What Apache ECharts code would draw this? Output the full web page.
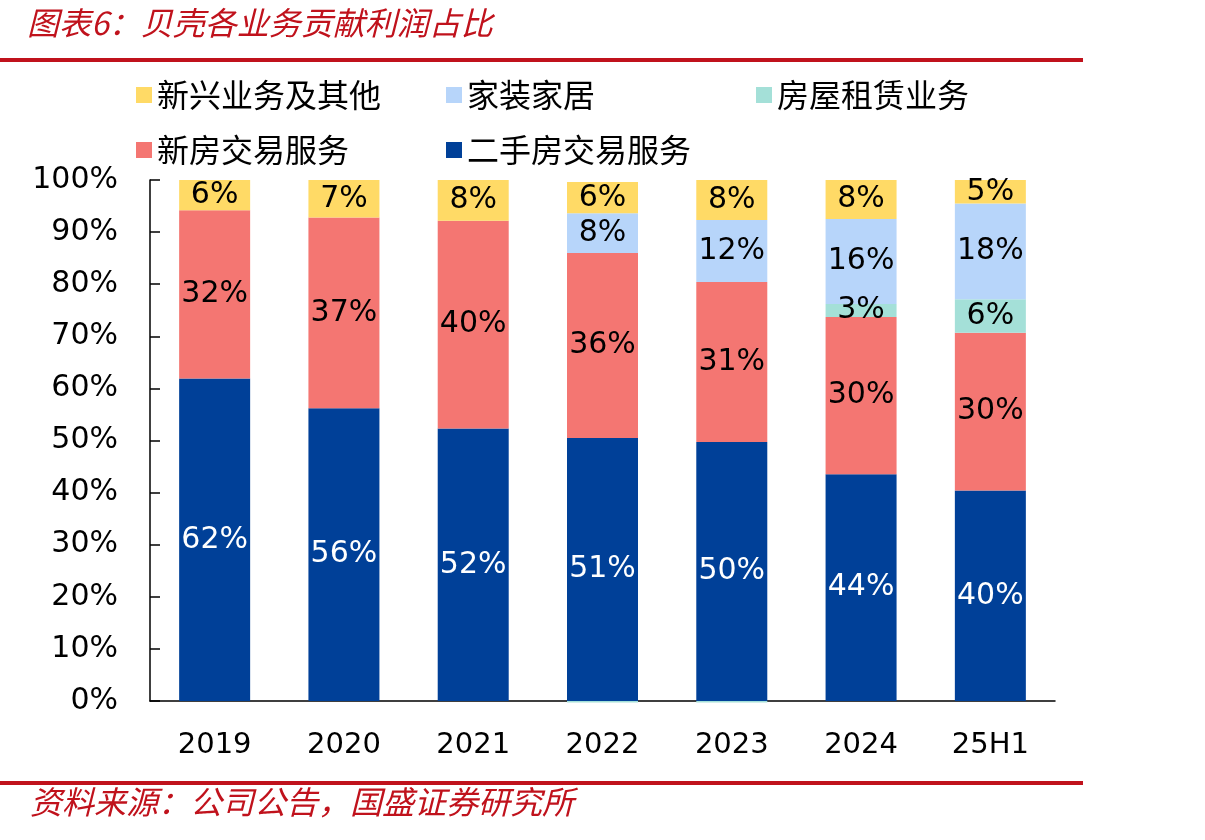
<!DOCTYPE html>
<html lang="zh-CN" style="height: 100%">
<head>
  <meta charset="utf-8">
</head>
<body style="height: 100%; margin: 0; background: #fff">
  <div id="container" style="width: 1205px; height: 840px"></div>

  <script type="text/javascript" src="https://fastly.jsdelivr.net/npm/echarts@6/dist/echarts.min.js"></script>

  <script type="text/javascript">
    // 贝壳各业务贡献利润占比 (%)
    var years = ['2019', '2020', '2021', '2022', '2023', '2024', '25H1'];
    var secondHand = [61.9, 56.2, 52.3, 50.5, 49.7, 43.5, 40.4];   // 二手房交易服务
    var newHome = [32.3, 36.6, 39.9, 35.5, 30.7, 30.2, 30.3];      // 新房交易服务
    var rental = [0, 0, 0, -0.3, -0.3, 2.5, 6.4];                  // 房屋租赁业务
    var homeDeco = [0, 0, 0, 7.6, 11.9, 16.3, 18.4];                // 家装家居
    var emerging = [5.8, 7.2, 7.8, 6.0, 7.7, 7.5, 4.5];            // 新兴业务及其他
    var yTicks = ['0%', '10%', '20%', '30%', '40%', '50%', '60%', '70%', '80%', '90%', '100%'];

    var red = '#C0121C';
    var numFont = 'DejaVu Sans';
    var cjkFont = '"Noto Sans CJK SC"';

    var dom = document.getElementById('container');
    var myChart = echarts.init(dom, null, { renderer: 'canvas' });
    var option;

    function pctLabel(color) {
      return {
        show: true,
        position: 'inside',
        color: color,
        fontFamily: numFont,
        fontSize: 30,
        formatter: function (p) {
          if (Math.abs(p.value) < 1) return '';
          return Math.round(p.value) + '%';
        }
      };
    }

    function barSeries(name, data, color, labelColor) {
      return {
        name: name,
        type: 'bar',
        stack: 'total',
        barWidth: 71,
        clip: false,
        data: data,
        itemStyle: { color: color },
        label: pctLabel(labelColor)
      };
    }

    option = {
      animation: false,
      backgroundColor: '#fff',
      title: {
        text: '图表6：贝壳各业务贡献利润占比',
        left: 22,
        top: 2,
        textStyle: {
          color: red,
          fontFamily: cjkFont,
          fontStyle: 'italic',
          fontWeight: 'normal',
          fontSize: 32
        }
      },
      legend: {
        data: ['新兴业务及其他', '家装家居', '房屋租赁业务', '新房交易服务', '二手房交易服务'],
        left: 131,
        top: 72,
        width: 950,
        icon: 'rect',
        itemWidth: 16,
        itemHeight: 16,
        itemGap: 19,
        textStyle: {
          color: '#000',
          fontFamily: cjkFont,
          fontSize: 32,
          width: 270,
          lineHeight: 36
        }
      },
      grid: {
        left: 150,
        right: 150,
        top: 180,
        bottom: 139
      },
      xAxis: {
        type: 'category',
        data: years,
        axisLine: { lineStyle: { color: '#000', width: 1.5 } },
        axisTick: { inside: true, length: 10, lineStyle: { color: '#000', width: 1.5 } },
        axisLabel: { color: '#000', fontFamily: numFont, fontSize: 29, margin: 30 }
      },
      yAxis: {
        type: 'value',
        min: 0,
        max: 100,
        interval: 10,
        axisLine: { show: true, lineStyle: { color: '#000', width: 1.5 } },
        axisTick: { show: true, inside: true, length: 10, lineStyle: { color: '#000', width: 1.5 } },
        splitLine: { show: false },
        axisLabel: {
          color: '#000',
          fontFamily: numFont,
          fontSize: 30,
          margin: 32,
          formatter: function (v) { return yTicks[Math.round(v / 10)]; }
        }
      },
      series: [
        barSeries('二手房交易服务', secondHand, '#004098', '#fff'),
        barSeries('新房交易服务', newHome, '#F47672', '#000'),
        barSeries('房屋租赁业务', rental, '#A4E0D8', '#000'),
        barSeries('家装家居', homeDeco, '#B7D5FA', '#000'),
        barSeries('新兴业务及其他', emerging, '#FFDA66', '#000')
      ],
      graphic: [
        { type: 'rect', left: 0, top: 58, shape: { width: 1083, height: 4 }, style: { fill: red } },
        { type: 'rect', left: 0, top: 781, shape: { width: 1083, height: 4 }, style: { fill: red } },
        {
          type: 'text',
          left: 30,
          top: 786,
          style: {
            text: '资料来源：公司公告，国盛证券研究所',
            fill: red,
            font: 'italic 32px "Noto Sans CJK SC"'
          }
        }
      ]
    };

    myChart.setOption(option);
    window.addEventListener('resize', myChart.resize);
  </script>
</body>
</html>
